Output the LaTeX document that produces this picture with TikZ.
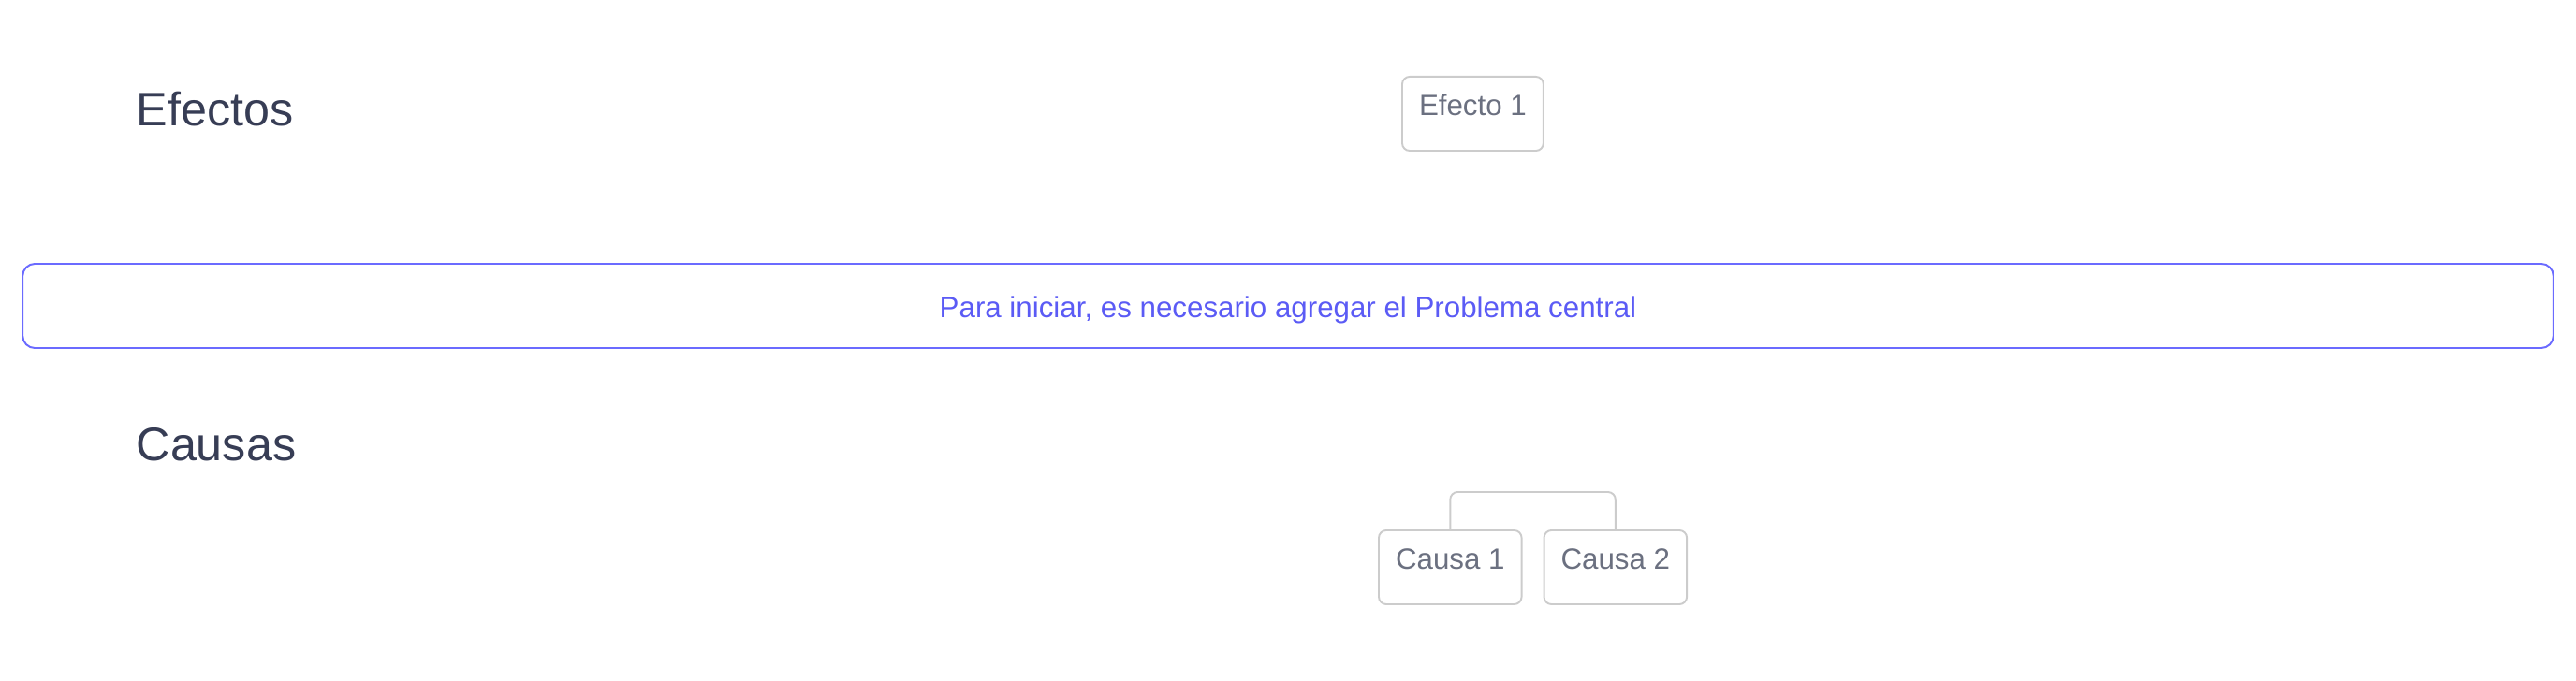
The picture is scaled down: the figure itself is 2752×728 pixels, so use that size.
\documentclass[tikz,border=0pt]{standalone}
\usepackage{fontspec}
\setmainfont{Liberation Sans}
\usepackage{tikz}
\usetikzlibrary{positioning}
\definecolor{titulo}{HTML}{373D55}
\definecolor{gristxt}{HTML}{6B7080}
\definecolor{grisbox}{HTML}{CCCCCC}
\definecolor{azul}{HTML}{6B6BFF}
\definecolor{azultxt}{HTML}{5B5BF5}

\begin{document}
\begin{tikzpicture}[x=0.01cm,y=-0.01cm,
titulo/.style={anchor=base west,text=titulo,font=\fontsize{14.3}{17}\selectfont,inner sep=0pt},
caja/.style={draw=grisbox,line width=0.55pt,rounded corners=0.08cm,text=gristxt,font=\fontsize{8.9}{10}\selectfont,inner xsep=0.18cm,inner ysep=0.1cm,text height=0.32cm,text depth=0.27cm},
problema/.style={draw=azul,line width=0.55pt,rounded corners=0.13cm,text=azultxt,font=\fontsize{8.9}{10}\selectfont,minimum width=27.02cm,minimum height=0.9cm,text height=0.30cm,text depth=0.06cm}]
\useasboundingbox (0,0) rectangle (2752,728);
\node[titulo] (efectos) at (145,135) {Efectos};
\node[titulo] (causas) at (145,493) {Causas};
\node[caja,anchor=north west] (e1) at (1497,81) {Efecto 1};
\node[problema] (prob) at (1376,327) {Para iniciar, es necesario agregar el Problema central};
\node[caja,anchor=north west] (c1) at (1472,566) {Causa 1};
\node[caja,right=0.22cm of c1] (c2) {Causa 2};
\draw[grisbox,line width=0.55pt,rounded corners=0.08cm] (c1.north) -- ++(0,-40) -| (c2.north);
\end{tikzpicture}
\end{document}
